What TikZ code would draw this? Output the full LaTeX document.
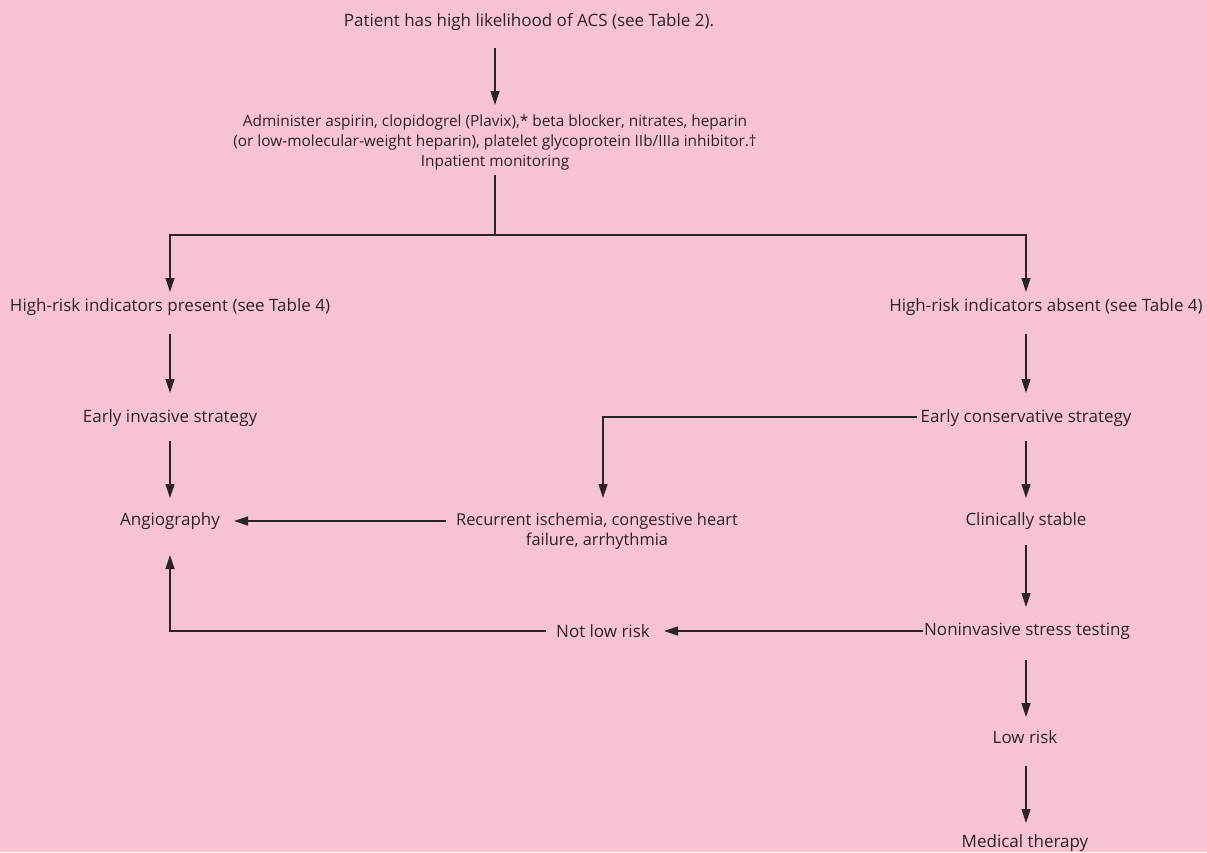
\documentclass[tikz,border=0pt]{standalone}
\usepackage{fontspec}
\setmainfont{Open Sans}
\usetikzlibrary{arrows.meta}
\definecolor{bg}{HTML}{F8C3D0}
\definecolor{ink}{HTML}{2B2326}
\begin{document}
\begin{tikzpicture}[x=1pt,y=-1pt,
 txt/.style={text=ink,font=\fontsize{17}{20}\selectfont,inner sep=0pt,align=center},
 smalltxt/.style={txt,font=\fontsize{15.4}{20}\selectfont},
 conn/.style={draw=ink,line width=1.2pt},
 arr/.style={conn,-{Triangle[length=14pt,width=9pt]}}]
\fill[bg] (0,0) rectangle (1207,852);
\useasboundingbox (0,0) rectangle (1207,852);
% nodes
\node[txt] (p) at (529,22) {Patient has high likelihood of ACS (see Table 2).};
\node[smalltxt] (adm) at (495,142) {Administer aspirin, clopidogrel (Plavix),* beta blocker, nitrates, heparin\\(or low-molecular-weight heparin), platelet glycoprotein IIb/IIIa inhibitor.\textdagger\\Inpatient monitoring};
\node[txt] (hp) at (170,307) {High-risk indicators present (see Table 4)};
\node[txt] (ha) at (1046,307) {High-risk indicators absent (see Table 4)};
\node[txt] (ei) at (170,418) {Early invasive strategy};
\node[txt] (ec) at (1026,418) {Early conservative strategy};
\node[txt] (ang) at (170,521) {Angiography};
\node[txt,font=\fontsize{16.4}{20}\selectfont] (rec) at (597,531) {Recurrent ischemia, congestive heart\\failure, arrhythmia};
\node[txt] (cs) at (1026,521) {Clinically stable};
\node[txt] (nst) at (1027,631) {Noninvasive stress testing};
\node[txt] (nlr) at (603,631) {Not low risk};
\node[txt] (lr) at (1025,737) {Low risk};
\node[txt] (mt) at (1025,843) {Medical therapy};
% connector end points
\coordinate (c1) at (495,48);
\coordinate (c1e) at (495,105);
\coordinate (b0) at (495,175);
\coordinate (b1) at (495,235);
\coordinate (hpT) at (170,292);
\coordinate (haT) at (1026,292);
\coordinate (hpB) at (170,334);
\coordinate (eiT) at (170,393);
\coordinate (haB) at (1026,334);
\coordinate (ecT) at (1026,393);
\coordinate (eiB) at (170,441);
\coordinate (angT) at (170,498);
\coordinate (ecL) at (917,417);
\coordinate (recT) at (603,498);
\coordinate (recL) at (446,521);
\coordinate (angR) at (234,521);
\coordinate (ecB) at (1026,441);
\coordinate (csT) at (1026,498);
\coordinate (csB) at (1026,545);
\coordinate (nstT) at (1026,607);
\coordinate (nstL) at (923,631);
\coordinate (nlrR) at (664,631);
\coordinate (nlrL) at (546,631);
\coordinate (angB) at (170,555);
\coordinate (nstB) at (1026,660);
\coordinate (lrT) at (1026,717);
\coordinate (lrB) at (1026,766);
\coordinate (mtT) at (1026,823);
% connectors
\draw[arr] (c1) -- (c1e);
\draw[conn] (b0) -- (b1);
\draw[arr] (b1) -| (hpT);
\draw[arr] (b1) -| (haT);
\draw[arr] (hpB) -- (eiT);
\draw[arr] (haB) -- (ecT);
\draw[arr] (eiB) -- (angT);
\draw[arr] (ecL) -| (recT);
\draw[arr] (recL) -- (angR);
\draw[arr] (ecB) -- (csT);
\draw[arr] (csB) -- (nstT);
\draw[arr] (nstL) -- (nlrR);
\draw[arr] (nlrL) -| (angB);
\draw[arr] (nstB) -- (lrT);
\draw[arr] (lrB) -- (mtT);
\end{tikzpicture}
\end{document}
